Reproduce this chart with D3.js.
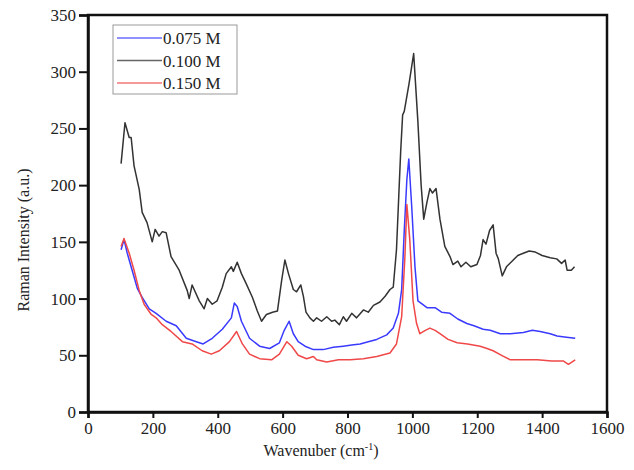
<!DOCTYPE html>
<html lang="en">
<head>
<meta charset="UTF-8">
<title>Raman</title>
<script src="https://cdn.jsdelivr.net/npm/d3@7"></script>
<style>
  body { margin: 0; background: #fff; }
  .line { fill: none; stroke-width: 1.5px; stroke-linejoin: round; }
  text { font-family: "Liberation Serif", "Times New Roman", serif; fill: #222; }
</style>
</head>
<body>
<script>
// series: [wavenumber, intensity]
var series100 = [[102,219],[114,255],[127,242],[133,242],[142,217],[158,196],[167,176],[182,167],[198,150],[207,161],[219,155],[229,159],[241,158],[256,137],[281,125],[306,107],[312,100],[321,112],[343,98],[358,91],[368,100],[383,95],[398,98],[414,110],[426,122],[442,128],[448,124],[460,132],[473,122],[488,113],[507,101],[522,89],[535,80],[550,86],[569,88],[584,89],[597,116],[607,134],[618,122],[633,108],[643,106],[656,112],[664,102],[672,88],[684,83],[695,80],[705,83],[720,80],[736,84],[751,80],[761,81],[775,77],[787,84],[797,80],[813,87],[828,83],[849,90],[864,88],[880,94],[900,97],[916,102],[931,108],[941,110],[951,143],[958,190],[964,230],[970,262],[975,265],[990,290],[1004,316],[1017,256],[1027,200],[1035,170],[1045,185],[1054,197],[1062,193],[1073,197],[1085,170],[1100,146],[1116,137],[1125,130],[1140,133],[1150,128],[1165,132],[1180,128],[1199,130],[1210,138],[1218,152],[1227,148],[1238,160],[1249,165],[1258,140],[1265,135],[1277,120],[1290,128],[1311,134],[1325,138],[1342,140],[1360,142],[1379,141],[1400,138],[1425,136],[1445,135],[1460,131],[1471,134],[1477,125],[1490,125],[1500,128]];
var series075 = [[102,143],[111,152],[121,140],[136,125],[152,109],[167,101],[189,91],[210,87],[241,80],[272,76],[303,65],[334,62],[355,60],[383,65],[414,73],[442,83],[451,96],[460,93],[473,80],[498,65],[529,58],[560,56],[590,61],[605,72],[620,80],[633,69],[648,62],[669,58],[695,55],[725,55],[756,57],[787,58],[813,59],[839,60],[864,62],[890,64],[921,68],[941,74],[957,87],[967,108],[975,160],[983,205],[989,223],[998,181],[1008,128],[1017,98],[1045,92],[1070,92],[1090,88],[1116,87],[1140,82],[1168,78],[1190,76],[1218,73],[1240,72],[1271,69],[1302,69],[1342,70],[1370,72],[1394,71],[1425,69],[1446,67],[1475,66],[1502,65]];
var series150 = [[102,146],[111,153],[127,140],[142,125],[158,107],[173,95],[195,86],[210,83],[229,77],[256,71],[291,62],[321,60],[352,54],[380,51],[405,54],[436,62],[458,71],[476,60],[498,51],[529,47],[566,46],[590,51],[613,62],[628,58],[648,50],[674,47],[695,49],[705,46],[736,44],[772,46],[808,46],[849,47],[890,49],[931,52],[951,60],[967,84],[977,137],[983,183],[992,152],[1002,98],[1013,78],[1023,69],[1040,72],[1054,74],[1070,72],[1085,69],[1110,64],[1138,61],[1170,60],[1209,58],[1230,56],[1249,54],[1275,50],[1302,46],[1340,46],[1385,46],[1430,45],[1465,45],[1481,42],[1502,46]];

var legendLabels = ["0.075 M", "0.100 M", "0.150 M"];
var legendColors = ["#3a3aff", "#333333", "#f04848"];
var xTicks = [0, 200, 400, 600, 800, 1000, 1200, 1400, 1600];
var yTicks = [0, 50, 100, 150, 200, 250, 300, 350];

var margin = {top: 15, right: 27, bottom: 58, left: 88},
    width = 634 - margin.left - margin.right,
    height = 470 - margin.top - margin.bottom;

var svg = d3.select("body").append("svg")
    .attr("width", 634).attr("height", 470);
var g = svg.append("g").attr("transform", "translate(" + margin.left + "," + margin.top + ")");

var x = d3.scaleLinear().domain([0, 1600]).range([0, width]);
var y = d3.scaleLinear().domain([0, 350]).range([height, 0]);

var line = d3.line()
    .x(function(d) { return x(d[0]); })
    .y(function(d) { return y(d[1]); });

// lines (black behind, then blue, red)
[[series100, legendColors[1]], [series075, legendColors[0]], [series150, legendColors[2]]].forEach(function(s) {
  g.append("path").datum(s[0]).attr("class", "line").style("stroke", s[1]).attr("d", line);
});

// frame
g.append("rect").attr("width", width).attr("height", height)
  .attr("fill", "none").attr("stroke", "#111").attr("stroke-width", 2.5);

var xAxis = g.append("g").attr("transform", "translate(0," + height + ")")
  .call(d3.axisBottom(x).tickValues(xTicks).tickSize(6).tickPadding(4).tickFormat(d3.format("d")));
var yAxis = g.append("g")
  .call(d3.axisLeft(y).tickValues(yTicks).tickSize(9).tickPadding(3).tickFormat(d3.format("d")));
[xAxis, yAxis].forEach(function(a) {
  a.select(".domain").attr("stroke", "#111").attr("stroke-width", 2.5);
  a.selectAll(".tick line").attr("stroke", "#111").attr("stroke-width", 2);
  a.selectAll(".tick text").style("font-family", "Liberation Serif, serif").style("font-size", "17px").attr("fill", "#222");
});

// axis titles
var xt = svg.append("text").attr("x", 321).attr("y", 456)
  .attr("text-anchor", "middle").style("font-size", "16px");
xt.append("tspan").text("Wavenuber (cm");
xt.append("tspan").attr("dy", -6).style("font-size", "10px").text("-1");
xt.append("tspan").attr("dy", 6).text(")");

svg.append("text").attr("transform", "translate(29,240) rotate(-90)")
  .attr("text-anchor", "middle").style("font-size", "16px")
  .text("Raman Intensity (a.u.)");

// legend
var lg = svg.append("g");
lg.append("rect").attr("x", 113).attr("y", 25).attr("width", 124).attr("height", 69)
  .attr("fill", "#fff").attr("stroke", "#999").attr("stroke-width", 1);
legendLabels.forEach(function(lab, i) {
  var ly = 38 + i * 22.5;
  lg.append("line").attr("x1", 117).attr("x2", 162).attr("y1", ly).attr("y2", ly)
    .attr("stroke", legendColors[i]).attr("stroke-width", 1.5).attr("opacity", 0.75);
  lg.append("text").attr("x", 163).attr("y", ly + 6).style("font-size", "17px").text(lab);
});
</script>
</body>
</html>
